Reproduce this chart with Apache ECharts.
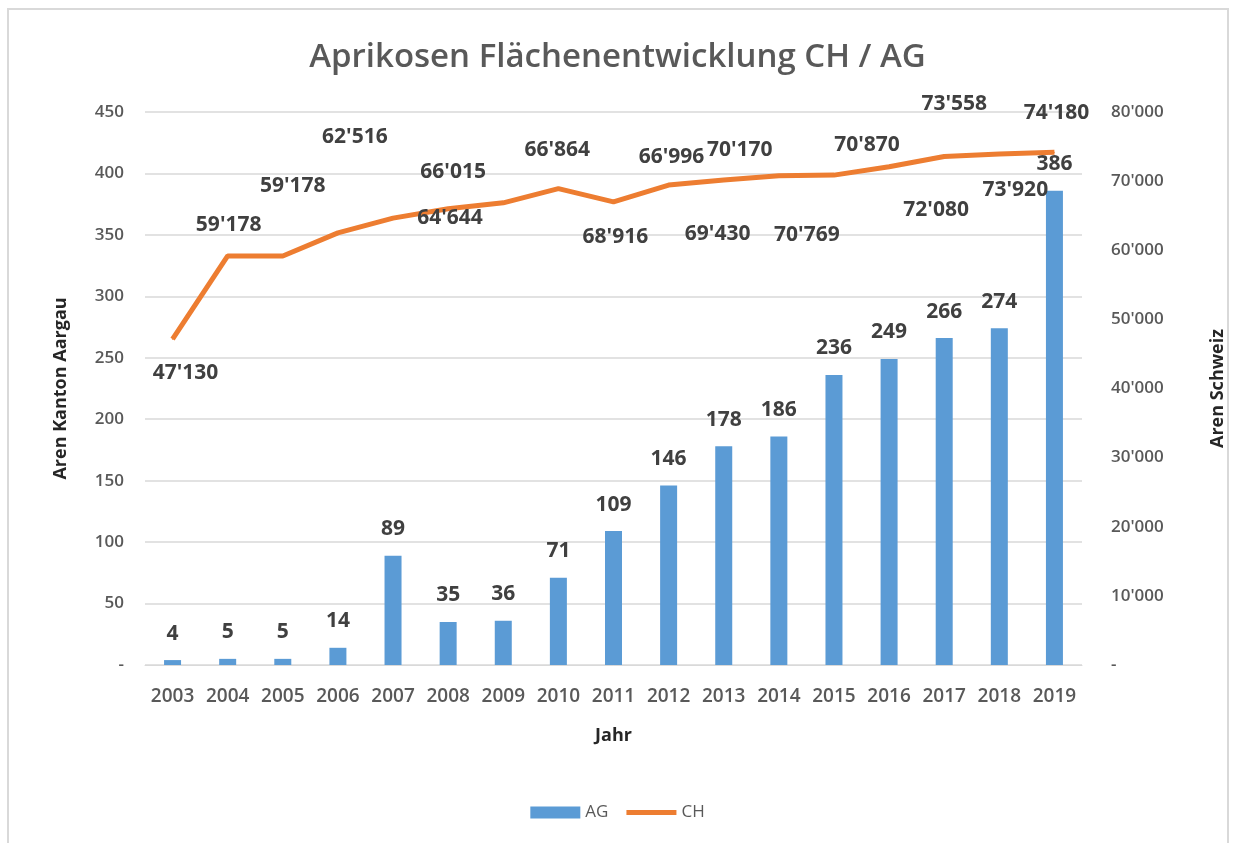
<!DOCTYPE html>
<html>
<head>
<meta charset="utf-8">
<script src="https://cdn.jsdelivr.net/npm/echarts@6/dist/echarts.min.js"></script>
<style>
  html, body { margin: 0; padding: 0; background: #fff; }
  #chart { width: 1235px; height: 843px; }
</style>
</head>
<body>
<div id="chart"></div>
<script>
// Jahre
const years = ['2003', '2004', '2005', '2006', '2007', '2008', '2009', '2010', '2011',
  '2012', '2013', '2014', '2015', '2016', '2017', '2018', '2019'];
// Aren Kanton Aargau
const agValues = [4, 5, 5, 14, 89, 35, 36, 71, 109, 146, 178, 186, 236, 249, 266, 274, 386];
// Aren Schweiz
const chValues = [47130, 59178, 59178, 62516, 64644, 66015, 66864, 68916, 66996,
  69430, 70170, 70769, 70870, 72080, 73558, 73920, 74180];

// label placement like in the excel original (dx, dy from the point)
const chLabelOffsets = [[13, 34], [1, -31], [10, -70], [17, -96], [57, 0], [5, -37],
  [54, -53], [57, 48], [58, -45], [49, 49], [16, -30], [28, 59], [33, -30],
  [47, 43], [10, -53], [16, 36], [2, -39]];

const fmt = v => v === 0 ? '-' : String(v).replace(/\B(?=(\d{3})+(?!\d))/g, "'");

// thin bar for the line legend, padded so it keeps the 50x12 box
const lineIcon = 'path://M0,0L0.01,0M0,3.5L50,3.5L50,8.5L0,8.5ZM0,12L0.01,12';

const chart = echarts.init(document.getElementById('chart'));
chart.setOption({
  animation: false,
  textStyle: { fontFamily: 'Open Sans' },
  graphic: [{
    type: 'rect',
    shape: { x: 8, y: 9, width: 1220, height: 900 },
    style: { fill: 'none', stroke: '#d9d9d9', lineWidth: 2 }
  }],
  title: {
    text: 'Aprikosen Flächenentwicklung CH / AG',
    left: 'center',
    top: 36,
    textStyle: { fontSize: 33, fontWeight: 600, color: '#595959', fontFamily: 'Open Sans' }
  },
  legend: {
    bottom: 17,
    left: 'center',
    itemWidth: 50,
    itemHeight: 12,
    itemGap: 18,
    textStyle: { fontSize: 17, color: '#595959' },
    data: [{ name: 'AG', icon: 'rect' }, { name: 'CH', icon: lineIcon }]
  },
  grid: { left: 145, right: 152, top: 112, bottom: 178 },
  xAxis: {
    type: 'category',
    data: years,
    name: 'Jahr',
    nameLocation: 'middle',
    nameGap: 62,
    nameTextStyle: { fontSize: 18, fontWeight: 700, color: '#262626' },
    axisLine: { lineStyle: { color: '#d9d9d9' } },
    axisTick: { show: false },
    axisLabel: { color: '#595959', fontSize: 19, fontWeight: 600, margin: 22, interval: 0 }
  },
  yAxis: [{
    type: 'value',
    min: 0, max: 450, interval: 50,
    name: 'Aren Kanton Aargau',
    nameLocation: 'middle',
    nameRotate: 90,
    nameGap: 75,
    nameTextStyle: { fontSize: 18, fontWeight: 700, color: '#262626' },
    axisLine: { show: false },
    axisTick: { show: false },
    axisLabel: { color: '#595959', fontSize: 17, fontWeight: 600, margin: 21, formatter: fmt },
    splitLine: { lineStyle: { color: '#d9d9d9', width: 1.5 } }
  }, {
    type: 'value',
    min: 0, max: 80000, interval: 10000,
    name: 'Aren Schweiz',
    nameLocation: 'middle',
    nameRotate: 90,
    nameGap: 127,
    nameTextStyle: { fontSize: 18, fontWeight: 700, color: '#262626' },
    axisLine: { show: false },
    axisTick: { show: false },
    axisLabel: { color: '#595959', fontSize: 17, fontWeight: 600, margin: 29, formatter: fmt },
    splitLine: { show: false }
  }],
  series: [{
    name: 'AG',
    type: 'bar',
    data: agValues,
    barWidth: 17,
    itemStyle: { color: '#5b9bd5' },
    label: {
      show: true, position: 'top', distance: 16,
      fontSize: 21, fontWeight: 700, color: '#404040'
    }
  }, {
    name: 'CH',
    type: 'line',
    yAxisIndex: 1,
    z: 5,
    data: chValues.map((v, i) => ({
      value: v,
      label: { offset: chLabelOffsets[i] }
    })),
    symbol: 'circle',
    symbolSize: 1,
    itemStyle: { color: '#ed7d31' },
    lineStyle: { color: '#ed7d31', width: 5 },
    label: {
      show: true, position: 'inside',
      fontSize: 21, fontWeight: 700, color: '#404040',
      formatter: p => fmt(p.value)
    }
  }]
});
</script>
</body>
</html>
